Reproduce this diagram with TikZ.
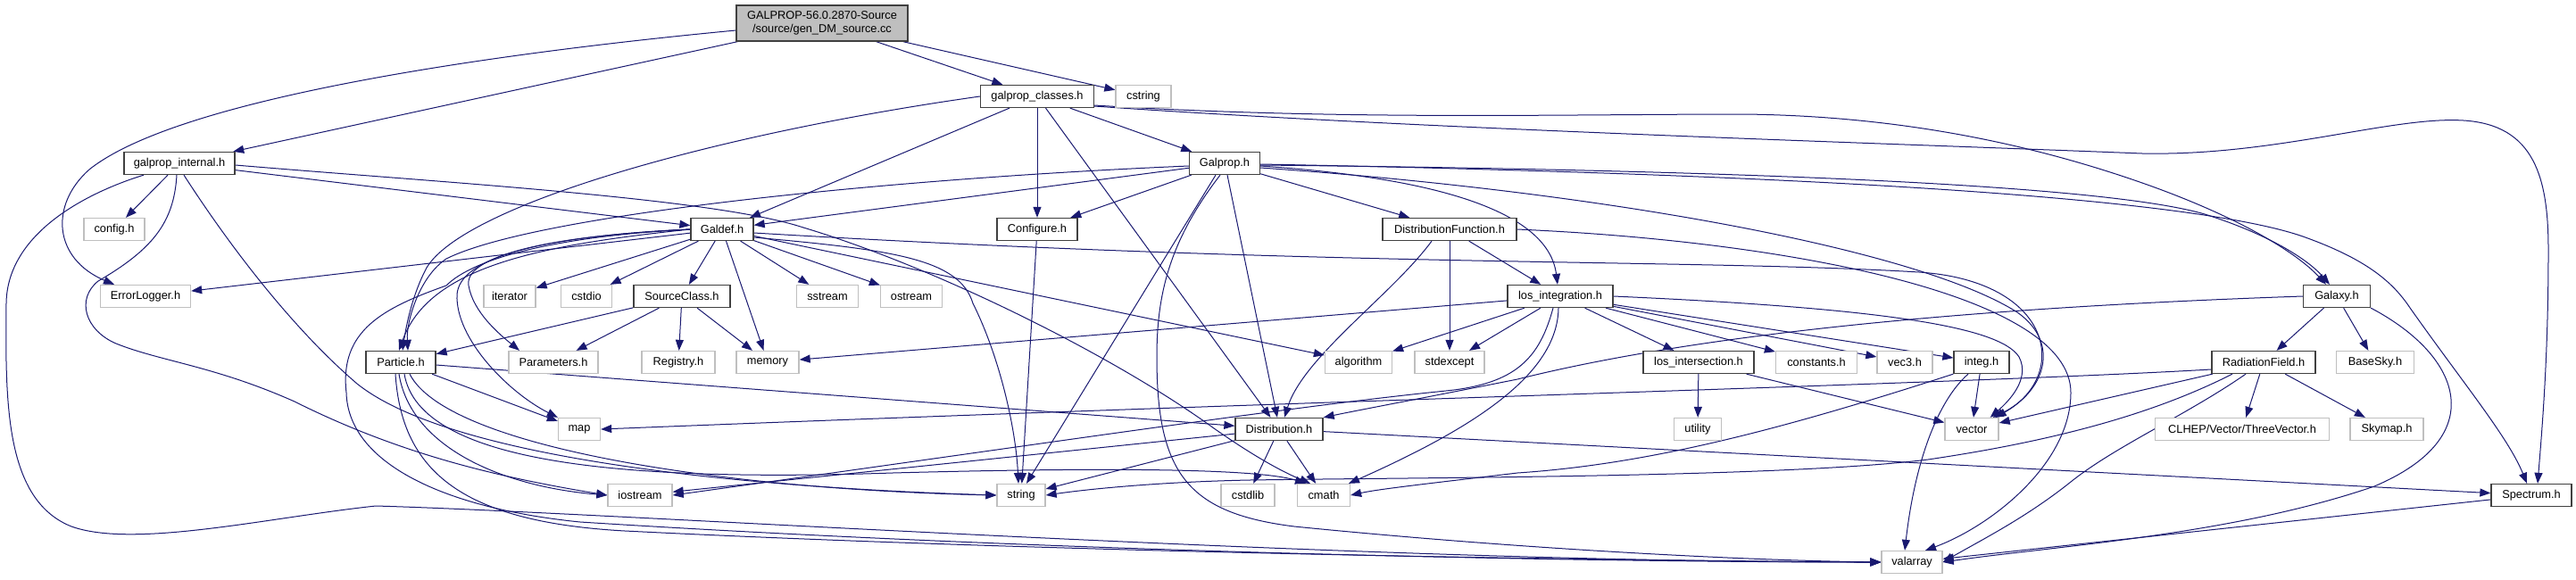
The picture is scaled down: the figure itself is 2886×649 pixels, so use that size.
\documentclass[tikz,border=0pt]{standalone}
\usepackage{fontspec}
\setmainfont{Liberation Sans}
\usetikzlibrary{arrows.meta}
\definecolor{edgec}{HTML}{191970}
\definecolor{extc}{HTML}{BFBFBF}
\definecolor{docc}{HTML}{404040}
\pgfdeclarelayer{edges}
\pgfsetlayers{edges,main}
\tikzset{
  docnode/.style={draw=docc, line width=1.3pt, fill=white, minimum height=25pt, inner xsep=2pt, inner ysep=0pt},
  extnode/.style={draw=extc, line width=1.3pt, fill=white, minimum height=25pt, inner xsep=2pt, inner ysep=0pt},
  dep/.style={draw=edgec, line width=1pt, -{Triangle[length=12pt,width=9pt]}}
}
\begin{document}
\begin{tikzpicture}[x=1pt,y=-1pt,font=\fontsize{12.8}{15.4}\selectfont]
\useasboundingbox (0,0) rectangle (2886,649);
% row 1
\node[docnode, fill=extc, minimum width=192pt, minimum height=40pt, align=center] (root) at (921,26) {GALPROP-56.0.2870-Source\\/source/gen\_DM\_source.cc};
% row 2
\node[docnode, minimum width=127pt] (gc) at (1162,108) {galprop\_classes.h};
\node[extnode, minimum width=62pt] (cstring) at (1281,108) {cstring};
% row 3
\node[docnode, minimum width=124pt] (gi) at (201,183) {galprop\_internal.h};
\node[docnode, minimum width=79pt] (galprop) at (1372,183) {Galprop.h};
% row 4
\node[extnode, minimum width=68pt] (config) at (128,257) {config.h};
\node[docnode, minimum width=70pt] (galdef) at (809,257) {Galdef.h};
\node[docnode, minimum width=90pt] (configure) at (1162,257) {Configure.h};
\node[docnode, minimum width=150pt] (df) at (1624,257) {DistributionFunction.h};
% row 5
\node[extnode, minimum width=101pt] (errlog) at (163,332) {ErrorLogger.h};
\node[extnode, minimum width=58pt] (iterator) at (571,332) {iterator};
\node[extnode, minimum width=57pt] (cstdio) at (657,332) {cstdio};
\node[docnode, minimum width=108pt] (source) at (764,332) {SourceClass.h};
\node[extnode, minimum width=69pt] (sstream) at (927,332) {sstream};
\node[extnode, minimum width=69pt] (ostream) at (1021,332) {ostream};
\node[docnode, minimum width=118pt] (li) at (1748,332) {los\_integration.h};
\node[docnode, minimum width=75pt] (galaxy) at (2618,332) {Galaxy.h};
% row 6
\node[docnode, minimum width=78pt] (particle) at (449,406) {Particle.h};
\node[extnode, minimum width=100pt] (params) at (620,406) {Parameters.h};
\node[extnode, minimum width=82pt] (registry) at (760,406) {Registry.h};
\node[extnode, minimum width=70pt] (memory) at (860,406) {memory};
\node[extnode, minimum width=75pt] (algorithm) at (1522,406) {algorithm};
\node[extnode, minimum width=78pt] (stdexcept) at (1624,406) {stdexcept};
\node[docnode, minimum width=124pt] (lis) at (1903,406) {los\_intersection.h};
\node[extnode, minimum width=91pt] (constants) at (2035,406) {constants.h};
\node[extnode, minimum width=62pt] (vec3) at (2134,406) {vec3.h};
\node[docnode, minimum width=62pt] (integ) at (2220,406) {integ.h};
\node[docnode, minimum width=116pt] (rf) at (2536,406) {RadiationField.h};
\node[extnode, minimum width=87pt] (basesky) at (2661,406) {BaseSky.h};
% row 7
\node[extnode, minimum width=47pt] (map) at (649,481) {map};
\node[docnode, minimum width=98pt] (dist) at (1433,481) {Distribution.h};
\node[extnode, minimum width=53pt] (utility) at (1902,481) {utility};
\node[extnode, minimum width=60pt] (vector) at (2209,481) {vector};
\node[extnode, minimum width=195pt] (clhep) at (2512,481) {CLHEP/Vector/ThreeVector.h};
\node[extnode, minimum width=82pt] (skymap) at (2674,481) {Skymap.h};
% row 8
\node[extnode, minimum width=72pt] (iostream) at (717,555) {iostream};
\node[extnode, minimum width=54pt] (string) at (1144,555) {string};
\node[extnode, minimum width=60pt] (cstdlib) at (1398,555) {cstdlib};
\node[extnode, minimum width=59pt] (cmath) at (1483,555) {cmath};
\node[docnode, minimum width=90pt] (spectrum) at (2836,555) {Spectrum.h};
% row 9
\node[extnode, minimum width=68pt] (valarray) at (2142,630) {valarray};

\begin{pgfonlayer}{edges}
% root
\draw[dep] (root) -- (gi);
\draw[dep] ([yshift=-8pt]root.west) .. controls (550,60) and (200,110) .. (100,190) .. controls (55,230) and (60,290) .. ([xshift=-35pt]errlog.north);
\draw[dep] (root) -- (gc);
\draw[dep] (root) -- (cstring);
% galprop_classes
\draw[dep] (gc.west) .. controls (800,150) and (520,230) .. (478,300) .. controls (462,330) and (455,365) .. ([xshift=2pt]particle.north);
\draw[dep] (gc) -- (galdef);
\draw[dep] (gc) -- (configure);
\draw[dep] (gc) -- (dist);
\draw[dep] (gc) -- (galprop);
\draw[dep] ([yshift=-10pt]gc.east) .. controls (1500,135) and (1750,128) .. (1953,128) .. controls (2150,130) and (2300,170) .. (2400,205) .. controls (2500,240) and (2570,280) .. ([xshift=-12pt]galaxy.north);
\draw[dep] ([yshift=-11pt]gc.east) .. controls (1600,145) and (2100,160) .. (2400,172) .. controls (2550,175) and (2680,130) .. (2760,135) .. controls (2840,140) and (2855,200) .. (2855,280) .. controls (2855,400) and (2848,480) .. ([xshift=7pt]spectrum.north);
% galprop_internal
\draw[dep] (gi) -- (config);
\draw[dep] (gi) -- (galdef);
\draw[dep] ([yshift=-2pt]gi.east) .. controls (500,205) and (800,222) .. (900,255) .. controls (1050,300) and (1250,400) .. (1360,480) .. controls (1410,515) and (1440,530) .. ([xshift=-15pt]cmath.north);
\draw[dep] ([xshift=-3pt]gi.south) .. controls (195,250) and (170,280) .. (110,315) .. controls (85,335) and (95,370) .. (130,385) .. controls (180,405) and (240,410) .. (330,450) .. controls (450,510) and (560,535) .. (iostream.west);
\draw[dep] ([xshift=5pt]gi.south) .. controls (260,280) and (330,370) .. (400,430) .. controls (500,510) and (800,545) .. (string.west);
\draw[dep] ([xshift=-40pt]gi.south) .. controls (100,215) and (8,260) .. (7,340) .. controls (6,450) and (5,560) .. (80,590) .. controls (150,615) and (300,580) .. (421,567) .. controls (700,575) and (1500,630) .. (valarray.west);
% Galdef
\draw[dep] (galdef) -- (errlog);
\draw[dep] (galdef.west) .. controls (600,275) and (480,300) .. ([xshift=-2pt]particle.north);
\draw[dep] (galdef) -- (iterator);
\draw[dep] (galdef) -- (cstdio);
\draw[dep] (galdef) -- (source);
\draw[dep] (galdef.west) .. controls (600,265) and (520,290) .. (525,320) .. controls (530,350) and (560,375) .. ([xshift=-38pt]params.north);
\draw[dep] (galdef.west) .. controls (600,265) and (515,290) .. (512,330) .. controls (510,380) and (570,440) .. (map.north west);
\draw[dep] (galdef.west) .. controls (620,265) and (530,290) .. (500,320) .. controls (430,345) and (380,370) .. (388,440) .. controls (390,520) and (500,570) .. (650,585) .. controls (1200,620) and (1800,630) .. (valarray.west);
\draw[dep] (galdef) -- (memory);
\draw[dep] (galdef) -- (sstream);
\draw[dep] (galdef) -- (ostream);
\draw[dep] (galdef) -- (algorithm);
\draw[dep] ([yshift=-9pt]galdef.east) .. controls (1000,280) and (1075,290) .. (1090,340) .. controls (1120,400) and (1138,480) .. ([xshift=-3pt]string.north);
\draw[dep] ([yshift=-4pt]galdef.east) .. controls (1500,300) and (1900,290) .. (2150,305) .. controls (2300,315) and (2320,420) .. ([xshift=-4pt]vector.north east);
% SourceClass
\draw[dep] (source) -- (particle);
\draw[dep] (source) -- (params);
\draw[dep] (source) -- (registry);
\draw[dep] (source) -- (memory);
% Galprop
\draw[dep] (galprop) -- (galdef);
\draw[dep] ([yshift=-3pt]galprop.west) .. controls (1000,200) and (600,240) .. (500,290) .. controls (470,310) and (455,360) .. ([xshift=8pt]particle.north);
\draw[dep] (galprop) -- (configure);
\draw[dep] (galprop) -- (df);
\draw[dep] ([yshift=-3pt]galprop.east) .. controls (1620,200) and (1735,240) .. ([xshift=-3pt]li.north);
\draw[dep] ([xshift=3pt]galprop.south) -- ([xshift=-2pt]dist.north);
\draw[dep] ([xshift=-10pt]galprop.south) -- ([xshift=6pt]string.north);
\draw[dep] ([xshift=-5pt]galprop.south) .. controls (1310,270) and (1296,330) .. (1296,400) .. controls (1296,530) and (1330,575) .. (1450,590) .. controls (1700,615) and (1950,628) .. (valarray.west);
\draw[dep] ([yshift=-5pt]galprop.east) .. controls (1800,215) and (2150,280) .. (2260,350) .. controls (2310,385) and (2290,440) .. ([xshift=-7pt]vector.north east);
\draw[dep] ([yshift=-2pt]galprop.east) .. controls (1900,190) and (2350,205) .. (2470,240) .. controls (2540,262) and (2585,290) .. ([xshift=-8pt]galaxy.north);
\draw[dep] ([yshift=-1pt]galprop.east) .. controls (2000,195) and (2450,220) .. (2580,265) .. controls (2650,290) and (2680,315) .. (2700,345) .. controls (2760,430) and (2810,490) .. ([xshift=-5pt]spectrum.north);
% Configure
\draw[dep] (configure) -- (string);
% DistributionFunction
\draw[dep] ([xshift=-20pt]df.south) .. controls (1560,330) and (1460,400) .. ([xshift=6pt]dist.north);
\draw[dep] (df) -- (stdexcept);
\draw[dep] (df) -- (li);
\draw[dep] (df.east) .. controls (2000,270) and (2320,330) .. (2320,440) .. controls (2320,520) and (2230,590) .. ([xshift=15pt]valarray.north);
% los_integration
\draw[dep] (li) -- (memory);
\draw[dep] (li) -- (algorithm);
\draw[dep] (li) -- (stdexcept);
\draw[dep] ([xshift=-8pt]li.south) .. controls (1725,400) and (1700,430) .. (1620,438) .. controls (1450,455) and (1150,500) .. (iostream.east);
\draw[dep] ([xshift=-2pt]li.south) .. controls (1745,420) and (1650,480) .. ([xshift=28pt]cmath.north);
\draw[dep] (li) -- (lis);
\draw[dep] (li) -- (constants);
\draw[dep] (li) -- (vec3);
\draw[dep] (li) -- (integ);
\draw[dep] (li.east) .. controls (2100,345) and (2240,365) .. (2262,400) .. controls (2275,425) and (2250,450) .. ([xshift=-10pt]vector.north east);
% Particle
\draw[dep] (particle) -- (dist);
\draw[dep] (particle) -- (map);
\draw[dep] ([xshift=-2pt]particle.south) .. controls (460,500) and (560,545) .. (iostream.west);
\draw[dep] ([xshift=10pt]particle.south) .. controls (500,500) and (800,548) .. (string.west);
\draw[dep] ([xshift=4pt]particle.south) .. controls (470,520) and (700,540) .. (1000,530) .. controls (1300,522) and (1420,528) .. ([xshift=-20pt]cmath.north);
\draw[dep] ([xshift=-6pt]particle.south) .. controls (450,530) and (520,585) .. (700,595) .. controls (1200,620) and (1800,628) .. (valarray.west);
% Distribution
\draw[dep] (dist) -- (cstdlib);
\draw[dep] (dist) -- (cmath);
\draw[dep] (dist) -- (iostream);
\draw[dep] (dist) -- (string);
\draw[dep] (dist) -- (spectrum);
% Galaxy
\draw[dep] (galaxy.west) .. controls (2200,345) and (1900,375) .. (1700,425) .. controls (1600,445) and (1520,460) .. (dist.north east);
\draw[dep] (galaxy) -- (rf);
\draw[dep] (galaxy) -- (basesky);
\draw[dep] (galaxy.south east) .. controls (2760,400) and (2790,490) .. (2660,545) .. controls (2500,600) and (2300,612) .. (valarray.east);
% RadiationField
\draw[dep] ([yshift=-8pt]rf.west) .. controls (2200,430) and (1500,448) .. (map.east);
\draw[dep] (rf) -- (vector);
\draw[dep] ([xshift=-35pt]rf.south) .. controls (2430,455) and (2330,490) .. (2160,515) .. controls (2000,535) and (1600,535) .. (1400,538) .. controls (1300,540) and (1220,548) .. (string.east);
\draw[dep] ([xshift=-20pt]rf.south) .. controls (2450,465) and (2370,500) .. (2320,540) .. controls (2270,580) and (2220,605) .. (valarray.east);
\draw[dep] (rf) -- (clhep);
\draw[dep] (rf) -- (skymap);
% integ
\draw[dep] (integ) -- (vector);
\draw[dep] ([xshift=-15pt]integ.south) .. controls (2170,450) and (2145,520) .. ([xshift=-8pt]valarray.north);
\draw[dep] (integ.south west) .. controls (2000,480) and (1850,520) .. (1700,530) .. controls (1600,542) and (1545,548) .. (cmath.east);
% los_intersection
\draw[dep] (lis) -- (utility);
\draw[dep] (lis) -- (vector);
% Spectrum
\draw[dep] (spectrum) -- (valarray);
\end{pgfonlayer}
\end{tikzpicture}
\end{document}
